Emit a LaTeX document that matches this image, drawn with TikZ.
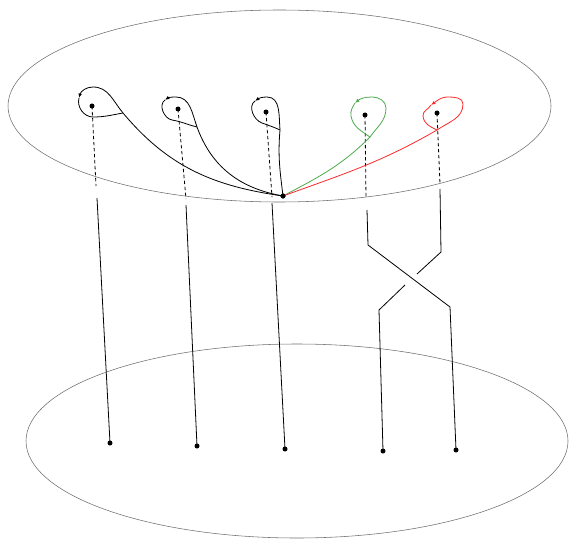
\documentclass[tikz,border=0pt]{standalone}
\usetikzlibrary{arrows.meta}
\definecolor{plane}{RGB}{110,110,110}
\definecolor{loopgreen}{RGB}{76,170,76}
\definecolor{loopred}{RGB}{250,40,40}
\tikzset{
  dot/.style={circle,fill=black,inner sep=0pt,minimum size=5pt},
  strand/.style={line width=0.8pt,black},
  hidden/.style={line width=0.8pt,black,dash pattern=on 3.5pt off 2.5pt},
  planeline/.style={line width=0.55pt,plane},
  tip/.style={-{Latex[length=4.5pt,width=3.6pt]}}
}
\begin{document}
\begin{tikzpicture}[x=1pt,y=-1pt]
\useasboundingbox (0,0) rectangle (569,540);
% planes
\draw[planeline] (279.5,106) ellipse [x radius=271.5pt, y radius=96pt];
\draw[planeline] (297,441) ellipse [x radius=271pt, y radius=97pt];

% points
\node[dot] (p1) at (92,106) {};
\node[dot] (p2) at (178,109) {};
\node[dot] (p3) at (266,112) {};
\node[dot] (p4) at (365,115) {};
\node[dot] (p5) at (437,113) {};
\node[dot] (b) at (283,196) {};
\node[dot] (q1) at (110,443) {};
\node[dot] (q2) at (197,446) {};
\node[dot] (q3) at (285,449) {};
\node[dot] (q4) at (383,451) {};
\node[dot] (q5) at (456,450) {};

% strand coordinates
\coordinate (e1) at (96,186);  \coordinate (s1) at (97,198);
\coordinate (e2) at (186,199); \coordinate (s2) at (186,205);
\coordinate (e3) at (272,197); \coordinate (s3) at (272,203);
\coordinate (e4) at (366,198); \coordinate (s4) at (367,210);
\coordinate (e5) at (440,184); \coordinate (s5) at (440,189);
\coordinate (k4a) at (368,245); \coordinate (k4b) at (450,307);
\coordinate (k5a) at (441,252); \coordinate (g5a) at (417,274);
\coordinate (g5b) at (405,285); \coordinate (k5b) at (379,310);

% hidden parts
\draw[hidden] (p1.center) -- (e1);
\draw[hidden] (p2.center) -- (e2);
\draw[hidden] (p3.center) -- (e3);
\draw[hidden] (p4.center) -- (e4);
\draw[hidden] (p5.center) -- (e5);

% visible strands
\draw[strand] (s1) -- (q1.center);
\draw[strand] (s2) -- (q2.center);
\draw[strand] (s3) -- (q3.center);
\draw[strand] (s4) -- (k4a) -- (k4b) -- (q5.center);
\draw[strand] (s5) -- (k5a) -- (g5a);
\draw[strand] (g5b) -- (k5b) -- (q4.center);

% loop coordinates
\coordinate (c1) at (123,113); \coordinate (t1) at (93,87);  \coordinate (a1) at (79,98);  \coordinate (m1) at (93,117);
\coordinate (c2) at (197,127); \coordinate (t2) at (176,97); \coordinate (a2) at (165,100); \coordinate (m2) at (172,120);
\coordinate (c3) at (280,130); \coordinate (t3) at (267,97); \coordinate (a3) at (255,101); \coordinate (m3) at (262,123);
\coordinate (cg) at (370,137); \coordinate (rg) at (386,108); \coordinate (tg) at (372,97); \coordinate (ag) at (355,103); \coordinate (lg) at (351,116);
\coordinate (cr) at (437,130); \coordinate (rr) at (463,104); \coordinate (tr) at (448,97); \coordinate (ar) at (431,105); \coordinate (lr) at (423,116);

% loop 1
\draw[strand,tip] (b.center) to[out=172,in=310] (c1) to[out=130,in=0] (t1) to[out=180,in=75] (a1);
\draw[strand] (a1) to[out=255,in=180] (m1) to[out=0,in=190] (c1);
% loop 2
\draw[strand,tip] (b.center) to[out=170,in=290] (c2) to[out=110,in=0] (t2) to[out=180,in=35] (a2);
\draw[strand] (a2) to[out=215,in=170] (m2) to[out=-10,in=166] (c2);
% loop 3
\draw[strand,tip] (b.center) to[out=97,in=265] (c3) to[out=95,in=0] (t3) to[out=180,in=35] (a3);
\draw[strand] (a3) to[out=215,in=160] (m3) to[out=-20,in=155] (c3);
% green loop
\draw[line width=0.8pt,loopgreen,tip] (b.center) to[out=28,in=225] (cg) to[out=55,in=270] (rg) to[out=90,in=0] (tg) to[out=180,in=40] (ag);
\draw[line width=0.8pt,loopgreen] (ag) to[out=240,in=100] (lg) to[out=280,in=145] (cg);
% red loop
\draw[line width=0.8pt,loopred,tip] (b.center) to[out=20,in=210] (cr) to[out=35,in=270] (rr) to[out=90,in=0] (tr) to[out=180,in=35] (ar);
\draw[line width=0.8pt,loopred] (ar) to[out=240,in=95] (lr) to[out=275,in=155] (cr);

% redraw dot on top
\node[dot] at (b) {};
\end{tikzpicture}
\end{document}
